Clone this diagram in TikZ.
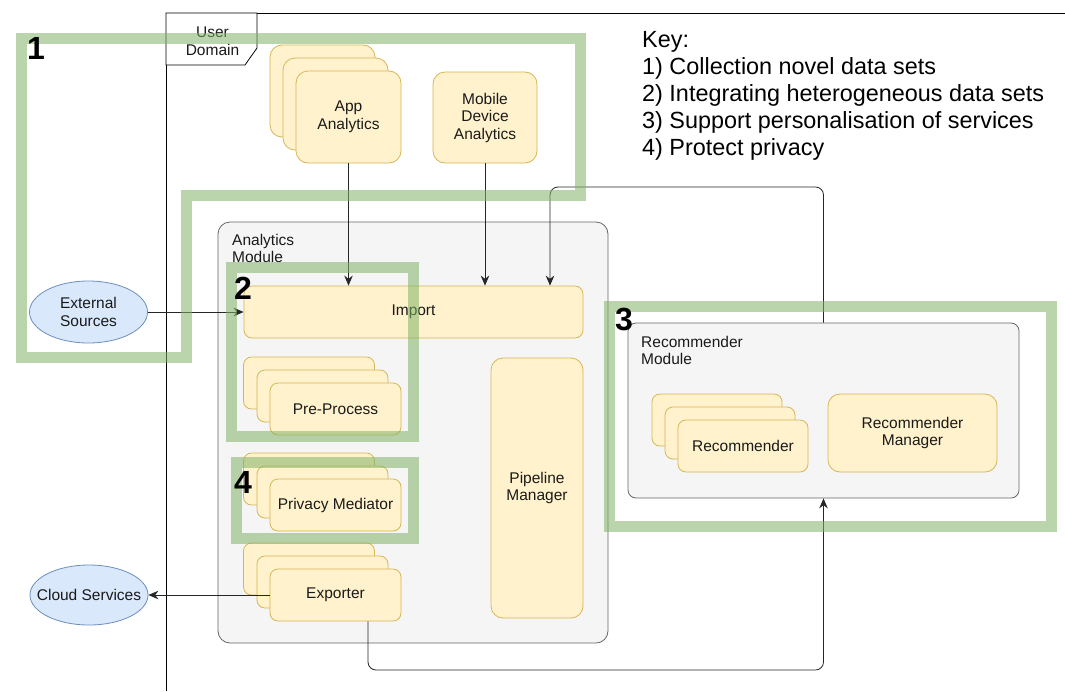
\documentclass[tikz,border=0pt]{standalone}
\usepackage{fontspec}
\setmainfont{Liberation Sans}
\usetikzlibrary{arrows.meta,shapes.geometric}
\definecolor{boxfill}{HTML}{FFF2CC}
\definecolor{boxline}{HTML}{D6B656}
\definecolor{modfill}{HTML}{F5F5F5}
\definecolor{modline}{HTML}{666666}
\definecolor{ellfill}{HTML}{DAE8FC}
\definecolor{ellline}{HTML}{6C8EBF}
\definecolor{bandc}{HTML}{82B366}
\definecolor{txtc}{HTML}{1A1A1A}
\begin{document}
\begin{tikzpicture}[x=1pt,y=-1pt,
  txt/.style={font=\fontsize{15.5}{17.5}\selectfont, text=txtc},
  ybox/.style={txt, draw=boxline, fill=boxfill, rounded corners=8pt, line width=0.8pt, inner sep=0pt, align=center},
  modbox/.style={draw=modline, fill=modfill, rounded corners=12pt, line width=0.8pt, inner sep=0pt},
  ell/.style={txt, ellipse, draw=ellline, fill=ellfill, line width=0.8pt, inner sep=0pt, align=center},
  arr/.style={draw=black!85, line width=0.8pt, -{Stealth[length=10pt,width=8.5pt]}},
  band/.style={draw=bandc, draw opacity=0.55, line width=11pt, line join=miter},
  bignum/.style={font=\fontsize{32}{32}\selectfont\bfseries, text=black, inner sep=0pt},
  lbl/.style={txt, inner sep=0pt, anchor=north west, align=left}]
\useasboundingbox (0,0) rectangle (1065,691);
\fill[white] (0,0) rectangle (1065,691);

% User domain frame
\draw[line width=0.8pt, black] (166,691) -- (166,13) -- (1065,13);
\draw[line width=0.8pt, black, fill=white] (166,13) -- (257,13) -- (257,48) -- (245,65) -- (166,65) -- cycle;
\node[txt, align=center, inner sep=0pt] (ud) at (212.5,41) {User\\Domain};

% Key
\node[inner sep=0pt, anchor=north west, align=left, font=\fontsize{23.4}{27}\selectfont, text=black] (key) at (642,31)
  {Key:\\1) Collection novel data sets\\2) Integrating heterogeneous data sets\\3) Support personalisation of services\\4) Protect privacy};

% App analytics
\node[ybox, minimum width=105pt, minimum height=92pt, rounded corners=12pt] (app1) at (322.5,91) {};
\node[ybox, minimum width=105pt, minimum height=92pt, rounded corners=12pt] (app2) at (335.5,104) {};
\node[ybox, minimum width=105pt, minimum height=92pt, rounded corners=12pt] (app3) at (348.5,117) {App\\Analytics};
\node[ybox, minimum width=104pt, minimum height=91pt, rounded corners=12pt] (mob) at (485,117.5) {Mobile\\Device\\Analytics};

% Analytics module
\node[modbox, minimum width=390pt, minimum height=421pt] (am) at (413,432.5) {};
\node[lbl] (amlbl) at (232,234) {Analytics\\Module};
\node[ybox, minimum width=339pt, minimum height=52pt] (imp) at (413.5,312) {Import};
\node[ybox, minimum width=131pt, minimum height=52pt] (pp1) at (309,383) {};
\node[ybox, minimum width=131pt, minimum height=52pt] (pp2) at (322.5,396) {};
\node[ybox, minimum width=131pt, minimum height=52pt] (pp3) at (335.5,409) {Pre-Process};
\node[ybox, minimum width=131pt, minimum height=52pt] (pm1) at (309,479) {};
\node[ybox, minimum width=131pt, minimum height=52pt] (pm2) at (322.5,492) {};
\node[ybox, minimum width=131pt, minimum height=52pt] (pm3) at (335.5,505) {Privacy Mediator};
\node[ybox, minimum width=131pt, minimum height=52pt] (ex1) at (309,569) {};
\node[ybox, minimum width=131pt, minimum height=52pt] (ex2) at (322.5,582) {};
\node[ybox, minimum width=131pt, minimum height=52pt] (ex3) at (335.5,595) {Exporter};
\node[ybox, minimum width=92pt, minimum height=260pt, rounded corners=12pt] (pipe) at (537,488) {Pipeline\\Manager};

% Recommender module
\node[modbox, rounded corners=8pt, minimum width=391pt, minimum height=175pt] (rm) at (823.5,410.5) {};
\node[lbl] (rmlbl) at (641,336) {Recommender\\Module};
\node[ybox, minimum width=130pt, minimum height=52pt] (rc1) at (717,420) {};
\node[ybox, minimum width=130pt, minimum height=52pt] (rc2) at (730,433) {};
\node[ybox, minimum width=130pt, minimum height=52pt] (rc3) at (743,446) {Recommender};
\node[ybox, minimum width=169pt, minimum height=78pt, rounded corners=12pt] (rmg) at (912.5,433) {Recommender\\Manager};

% Ellipses
\node[ell, minimum width=118pt, minimum height=62pt] (ext) at (88.5,312) {External\\Sources};
\node[ell, minimum width=118pt, minimum height=60pt] (cloud) at (89,595) {\makebox[0pt]{Cloud Services}};

% Connectors
\coordinate (c1) at (550,187);
\coordinate (c2) at (368,670);
\draw[arr] (app3.south) -- (app3.south |- imp.north);
\draw[arr] (mob.south) -- (mob.south |- imp.north);
\draw[arr, rounded corners=8pt] (rm.north) |- (c1) -- (c1 |- imp.north);
\draw[arr] (ext.east) -- (imp.west);
\draw[arr] (ex3.west) -- (cloud.east);
\draw[arr, rounded corners=8pt] (ex3.south -| c2) -- (c2) -| (rm.south);

% Green highlight frames
\draw[band] (21,38) -- (580,38) -- (580,195) -- (186,195) -- (186,357) -- (21,357) -- cycle;
\draw[band] (231,267) rectangle (413,436);
\draw[band] (236,462) rectangle (413,538);
\draw[band] (609,306) rectangle (1051,526);

% Numbers
\node[bignum] (n1) at (36,48) {1};
\node[bignum] (n2) at (243,288) {2};
\node[bignum] (n3) at (624,320) {3};
\node[bignum] (n4) at (243,482) {4};
\end{tikzpicture}
\end{document}
